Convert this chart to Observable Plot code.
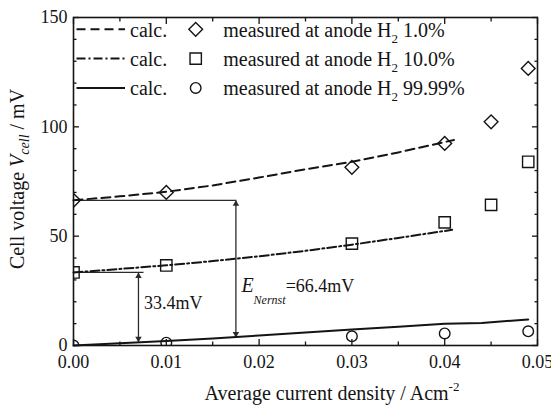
<!DOCTYPE html>
<html>
<head>
<meta charset="utf-8">
<script src="https://cdn.jsdelivr.net/npm/d3@7"></script>
<script src="https://cdn.jsdelivr.net/npm/@observablehq/plot@0.6"></script>
<style>
  html, body { margin: 0; padding: 0; background: #fff; }
  #chart svg { display: block; }
  #chart svg text, #chart svg tspan { font-family: "Liberation Serif", "Times New Roman", "DejaVu Serif", serif; }
</style>
</head>
<body>
<div id="chart"></div>
<script>
// ---- data -------------------------------------------------------------
// measured cell voltage (mV) vs. average current density (A cm^-2)
const measX1 = [0, 0.010, 0.030, 0.040, 0.045, 0.049];
const measY1 = [66.4, 70.0, 81.5, 92.4, 102.3, 126.7];
const measX10 = [0, 0.010, 0.030, 0.040, 0.045, 0.049];
const measY10 = [33.4, 36.6, 46.6, 56.3, 64.3, 84.0];
const measX99 = [0, 0.010, 0.030, 0.040, 0.049];
const measY99 = [0, 1.3, 4.2, 5.5, 6.5];

// calculated curves
const calcX1 = [0, 0.005, 0.010, 0.015, 0.020, 0.025, 0.030, 0.035, 0.041];
const calcY1 = [66.4, 68.2, 70.3, 73.2, 76.8, 80.6, 84.0, 88.3, 94.0];
const calcX10 = [0, 0.005, 0.010, 0.015, 0.020, 0.025, 0.030, 0.035, 0.0408];
const calcY10 = [33.4, 35.0, 36.7, 38.6, 40.8, 43.3, 46.1, 49.2, 52.9];
const calcX99 = [0, 0.005, 0.010, 0.015, 0.020, 0.025, 0.030, 0.035, 0.040, 0.044, 0.049];
const calcY99 = [0, 1.0, 2.1, 3.2, 4.6, 6.0, 7.3, 8.6, 10.0, 10.3, 11.9];

// open-circuit voltage markers (arrow x, arrow foot, Nernst value)
const ocvX = [0.0070, 0.0175];
const ocvLow = [1.5, 3.6];
const ocvHigh = [33.4, 66.4];
const ocvLineEnd = [0.0076, 0.0175];
const ocvLabels = ["33.4mV", "=66.4mV"];

// axis ticks
const xMajor = [0, 0.01, 0.02, 0.03, 0.04, 0.05];
const xTickLabels = ["0.00", "0.01", "0.02", "0.03", "0.04", "0.05"];
const xMinor = [0.005, 0.015, 0.025, 0.035, 0.045];
const yMajor = [0, 50, 100, 150];
const yTickLabels = ["0", "50", "100", "150"];
const yMinor = [10, 20, 30, 40, 60, 70, 80, 90, 110, 120, 130, 140];

const legendCalc = ["calc.", "calc.", "calc."];
const legendMeasured = ["1.0%", "10.0%", "99.99%"];

// ---- helpers ------------------------------------------------------------
const serif = "Liberation Serif, Times New Roman, DejaVu Serif, serif";
const ink = "#141414";
const rows = (xs, ys) => xs.map((x, i) => ({x, y: ys[i]}));

const m1 = rows(measX1, measY1), m10 = rows(measX10, measY10), m99 = rows(measX99, measY99);
const c1 = rows(calcX1, calcY1), c10 = rows(calcX10, calcY10), c99 = rows(calcX99, calcY99);
const ocv = ocvX.map((x, i) => ({x, lo: ocvLow[i], hi: ocvHigh[i], end: ocvLineEnd[i], label: ocvLabels[i]}));

const dash1 = "9,5";
const dash10 = "9,3,2,3";
const symbols = ["diamond2", "square", "circle"];
const symbolR = [6.2, 6.4, 5.3];

const plot = Plot.plot({
  width: 551,
  height: 407,
  marginLeft: 73,
  marginRight: 14,
  marginTop: 17,
  marginBottom: 62,
  style: {fontFamily: serif, fontSize: "18px", color: ink, background: "#fff", overflow: "visible"},
  x: {domain: [0, 0.05]},
  y: {domain: [0, 150]},
  marks: [
    // Nernst reference lines and double arrows
    Plot.ruleY(ocv, {y: "hi", x1: 0, x2: "end", stroke: "#2a2a2a", strokeWidth: 1.3}),
    Plot.ruleX(ocv, {x: "x", y1: "lo", y2: "hi", stroke: "#2a2a2a", strokeWidth: 1.3}),
    Plot.dot(ocv, {x: "x", y: "hi", symbol: "triangle", r: 2.4, fill: "#2a2a2a", stroke: null, dy: 3.7}),
    Plot.dot(ocv, {x: "x", y: "lo", symbol: "triangle", r: 2.4, fill: "#2a2a2a", stroke: null, rotate: 180, dy: -3.7}),
    Plot.text(ocv.slice(0, 1), {x: "end", y: (d) => (d.lo + d.hi) / 2, text: "label", textAnchor: "start", dx: 0, dy: -4, fontSize: 18, fill: ink}),

    // calculated curves
    Plot.line(c1, {x: "x", y: "y", stroke: ink, strokeWidth: 2, strokeDasharray: dash1}),
    Plot.line(c10, {x: "x", y: "y", stroke: ink, strokeWidth: 2, strokeDasharray: dash10}),
    Plot.line(c99, {x: "x", y: "y", stroke: ink, strokeWidth: 2}),

    // measured points
    Plot.dot(m1, {x: "x", y: "y", symbol: symbols[0], r: symbolR[0], stroke: ink, strokeWidth: 1.4, fill: "none", clip: true}),
    Plot.dot(m10, {x: "x", y: "y", symbol: symbols[1], r: symbolR[1], stroke: ink, strokeWidth: 1.4, fill: "none", clip: true}),
    Plot.dot(m99, {x: "x", y: "y", symbol: symbols[2], r: symbolR[2], stroke: ink, strokeWidth: 1.4, fill: "none", clip: true}),

    // inward ticks on all four sides
    Plot.axisX(xMajor, {anchor: "bottom", tickSize: -6, tickFormat: () => "", label: null, stroke: ink, strokeWidth: 1.3}),
    Plot.axisX(xMinor, {anchor: "bottom", tickSize: -3.5, tickFormat: () => "", label: null, stroke: ink, strokeWidth: 1.3}),
    Plot.axisX(xMajor, {anchor: "top", tickSize: -6, tickFormat: () => "", label: null, stroke: ink, strokeWidth: 1.3}),
    Plot.axisX(xMinor, {anchor: "top", tickSize: -3.5, tickFormat: () => "", label: null, stroke: ink, strokeWidth: 1.3}),
    Plot.axisY(yMajor, {anchor: "left", tickSize: -6, tickFormat: () => "", label: null, stroke: ink, strokeWidth: 1.3}),
    Plot.axisY(yMinor, {anchor: "left", tickSize: -3.5, tickFormat: () => "", label: null, stroke: ink, strokeWidth: 1.3}),
    Plot.axisY(yMajor, {anchor: "right", tickSize: -6, tickFormat: () => "", label: null, stroke: ink, strokeWidth: 1.3}),
    Plot.axisY(yMinor, {anchor: "right", tickSize: -3.5, tickFormat: () => "", label: null, stroke: ink, strokeWidth: 1.3}),

    // tick labels
    Plot.axisX(xMajor, {anchor: "bottom", tickSize: 0, tickPadding: 10, fontSize: 18, fill: ink,
      tickFormat: (d) => xTickLabels[xMajor.indexOf(d)], label: null}),
    Plot.axisY(yMajor, {anchor: "left", tickSize: 0, tickPadding: 6, fontSize: 18, fill: ink,
      tickFormat: (d) => yTickLabels[yMajor.indexOf(d)], label: null}),

    Plot.frame({stroke: ink, strokeWidth: 1.6})
  ]
});

document.getElementById("chart").appendChild(plot);

// ---- rich text labels and legend --------------------------------------
const svg = d3.select(plot);
const sx = plot.scale("x"), sy = plot.scale("y");

// E_Nernst label next to the larger arrow
{
  const t = svg.append("text")
    .attr("x", sx.apply(ocv[1].x) + 6)
    .attr("y", sy.apply((ocv[1].lo + ocv[1].hi) / 2) + 24)
    .attr("text-anchor", "start")
    .attr("fill", ink).attr("font-size", 20);
  t.append("tspan").attr("font-style", "italic").text("E");
  t.append("tspan").attr("font-style", "italic").attr("font-size", 12).attr("dy", 12).text("Nernst");
  t.append("tspan").attr("font-size", 18).attr("dy", -12).text(ocv[1].label);
}

// x-axis title
{
  const t = svg.append("text")
    .attr("x", 332).attr("y", 400)
    .attr("text-anchor", "middle")
    .attr("fill", ink).attr("font-size", 20);
  t.append("tspan").text("Average current density / Acm");
  t.append("tspan").attr("font-size", 13).attr("dy", -9).text("-2");
}

// y-axis title
{
  const t = svg.append("text")
    .attr("transform", "translate(23.5,179) rotate(-90)")
    .attr("text-anchor", "middle")
    .attr("fill", ink).attr("font-size", 20);
  t.append("tspan").text("Cell voltage ");
  t.append("tspan").attr("font-style", "italic").text("V");
  t.append("tspan").attr("font-style", "italic").attr("font-size", 14).attr("dy", 5).text("cell");
  t.append("tspan").attr("dy", -5).text(" / mV");
}

// legend
{
  const g = svg.append("g").attr("fill", ink).attr("font-size", 20).attr("text-anchor", "start");
  const dashes = [dash1, dash10, null];
  legendMeasured.forEach((pct, i) => {
    const yc = 29.3 + i * 29.3;
    g.append("line")
      .attr("x1", 76.5).attr("x2", 125).attr("y1", yc).attr("y2", yc)
      .attr("stroke", ink).attr("stroke-width", 2)
      .attr("stroke-dasharray", dashes[i]);
    g.append("text").attr("x", 130).attr("y", yc + 7.3).text(legendCalc[i]);
    const area = Math.PI * symbolR[i] * symbolR[i];
    const sym = {diamond2: d3.symbolDiamond2, square: d3.symbolSquare, circle: d3.symbolCircle}[symbols[i]];
    g.append("path")
      .attr("transform", `translate(195.7,${yc})`)
      .attr("d", d3.symbol(sym, area)())
      .attr("fill", "none").attr("stroke", ink).attr("stroke-width", 1.4);
    const t = g.append("text").attr("x", 223.3).attr("y", yc + 7.3);
    t.append("tspan").text("measured at anode H");
    t.append("tspan").attr("font-size", 13).attr("dy", 6).text("2");
    t.append("tspan").attr("dy", -6).text(" " + pct);
  });
}
</script>
</body>
</html>
